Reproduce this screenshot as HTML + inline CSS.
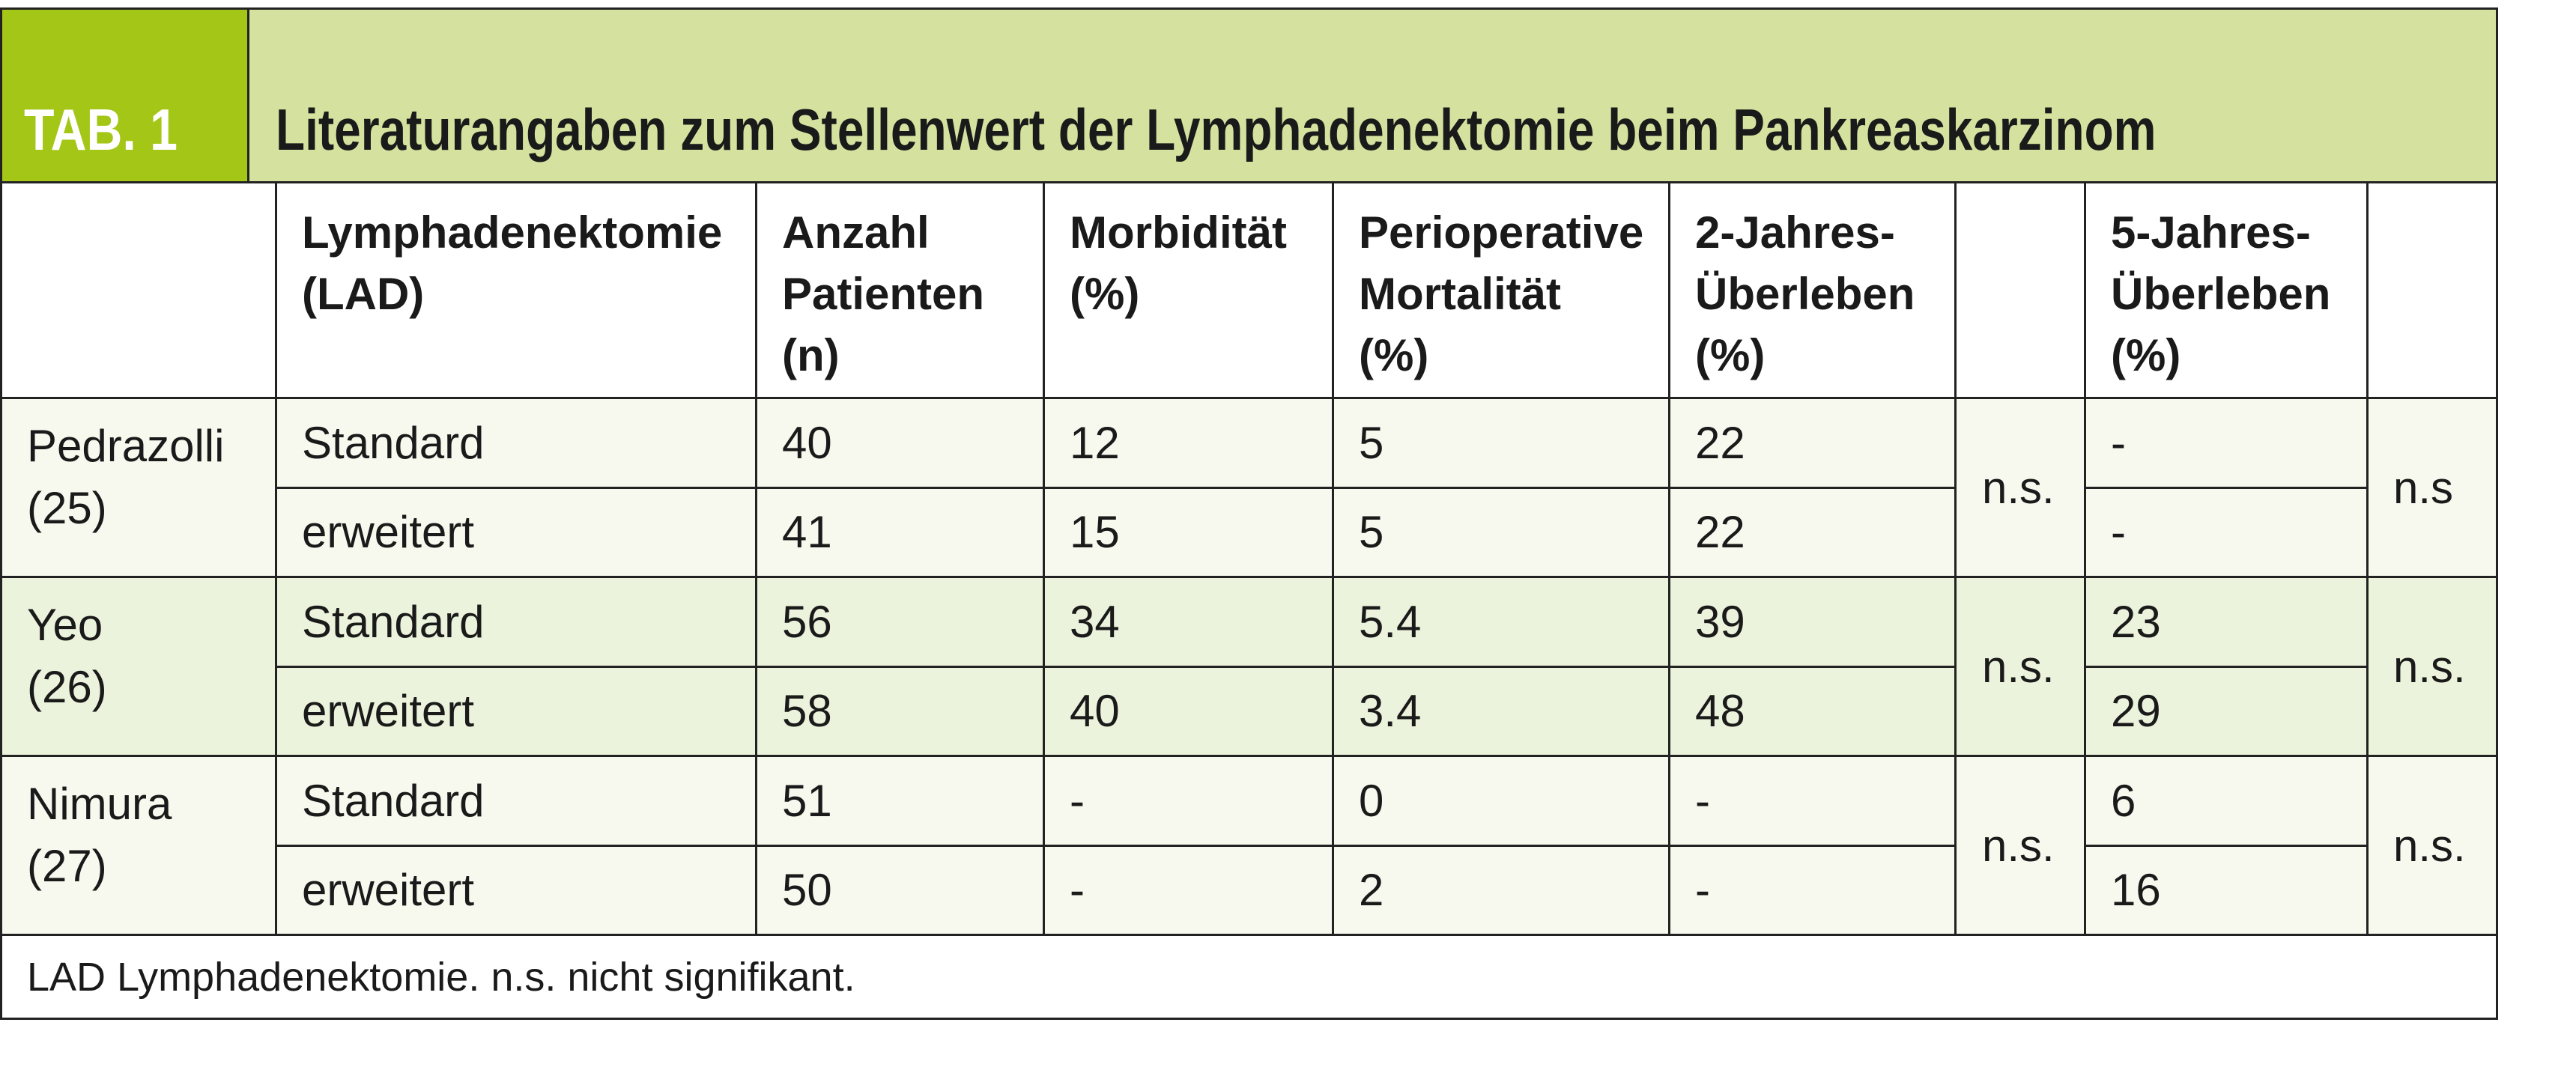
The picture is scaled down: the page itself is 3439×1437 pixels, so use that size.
<!DOCTYPE html>
<html><head><meta charset="utf-8"><style>
body{margin:0;width:3439px;height:1437px;background:#fff;position:relative;overflow:hidden;font-family:"Liberation Sans",sans-serif;color:#1a1a1a}
.a{position:absolute}
.bg{position:absolute}
.hl{position:absolute;height:3px;background:#222}
.vl{position:absolute;width:3px;background:#222}
.t{position:absolute;font-size:60px;line-height:70px;white-space:nowrap}
.h{position:absolute;font-size:60px;font-weight:bold;line-height:82px;white-space:nowrap}
</style></head><body>
<div class="bg" style="left:0;top:11px;width:331px;height:232px;background:#a3c617"></div>
<div class="bg" style="left:331px;top:11px;width:3002px;height:232px;background:#d5e29f"></div>
<div class="bg" style="left:0;top:531px;width:3333px;height:239px;background:#f7f9ee"></div>
<div class="bg" style="left:0;top:770px;width:3333px;height:239px;background:#ecf3dc"></div>
<div class="bg" style="left:0;top:1009px;width:3333px;height:239px;background:#f7f9ee"></div>

<div class="a" style="left:32px;top:128px;font-size:78px;line-height:90px;font-weight:bold;color:#fff;transform:scaleX(0.85);transform-origin:left;white-space:nowrap">TAB. 1</div>
<div class="a" style="left:368px;top:128px;font-size:78px;line-height:90px;font-weight:bold;transform:scaleX(0.82);transform-origin:left;white-space:nowrap">Literaturangaben zum Stellenwert der Lymphadenektomie beim Pankreaskarzinom</div>

<!-- borders -->
<div class="hl" style="left:0;top:10px;width:3335px"></div>
<div class="hl" style="left:0;top:242px;width:3335px"></div>
<div class="hl" style="left:0;top:530px;width:3335px"></div>
<div class="hl" style="left:368px;top:650px;width:2242px"></div>
<div class="hl" style="left:2783px;top:650px;width:377px"></div>
<div class="hl" style="left:0;top:769px;width:3335px"></div>
<div class="hl" style="left:368px;top:889px;width:2242px"></div>
<div class="hl" style="left:2783px;top:889px;width:377px"></div>
<div class="hl" style="left:0;top:1008px;width:3335px"></div>
<div class="hl" style="left:368px;top:1128px;width:2242px"></div>
<div class="hl" style="left:2783px;top:1128px;width:377px"></div>
<div class="hl" style="left:0;top:1247px;width:3335px"></div>
<div class="hl" style="left:0;top:1359px;width:3335px"></div>
<div class="vl" style="left:0;top:10px;height:1352px"></div>
<div class="vl" style="left:3332px;top:10px;height:1352px"></div>
<div class="vl" style="left:330px;top:10px;height:234px"></div>
<div class="vl" style="left:367px;top:242px;height:1007px"></div>
<div class="vl" style="left:1008px;top:242px;height:1007px"></div>
<div class="vl" style="left:1392px;top:242px;height:1007px"></div>
<div class="vl" style="left:1778px;top:242px;height:1007px"></div>
<div class="vl" style="left:2227px;top:242px;height:1007px"></div>
<div class="vl" style="left:2609px;top:242px;height:1007px"></div>
<div class="vl" style="left:2782px;top:242px;height:1007px"></div>
<div class="vl" style="left:3159px;top:242px;height:1007px"></div>

<!-- header -->
<div class="h" style="left:403px;top:270px">Lymphadenektomie<br>(LAD)</div>
<div class="h" style="left:1044px;top:270px">Anzahl<br>Patienten<br>(n)</div>
<div class="h" style="left:1428px;top:270px">Morbidität<br>(%)</div>
<div class="h" style="left:1814px;top:270px">Perioperative<br>Mortalität<br>(%)</div>
<div class="h" style="left:2263px;top:270px">2-Jahres-<br>Überleben<br>(%)</div>
<div class="h" style="left:2818px;top:270px">5-Jahres-<br>Überleben<br>(%)</div>

<!-- data -->
<div class="t" style="left:36px;top:554px;line-height:83px">Pedrazolli<br>(25)</div>
<div class="t" style="left:36px;top:793px;line-height:83px">Yeo<br>(26)</div>
<div class="t" style="left:36px;top:1032px;line-height:83px">Nimura<br>(27)</div>

<div class="t" style="left:403px;top:557px">Standard</div>
<div class="t" style="left:403px;top:676px">erweitert</div>
<div class="t" style="left:403px;top:796px">Standard</div>
<div class="t" style="left:403px;top:915px">erweitert</div>
<div class="t" style="left:403px;top:1035px">Standard</div>
<div class="t" style="left:403px;top:1154px">erweitert</div>

<div class="t" style="left:1044px;top:557px">40</div>
<div class="t" style="left:1044px;top:676px">41</div>
<div class="t" style="left:1044px;top:796px">56</div>
<div class="t" style="left:1044px;top:915px">58</div>
<div class="t" style="left:1044px;top:1035px">51</div>
<div class="t" style="left:1044px;top:1154px">50</div>

<div class="t" style="left:1428px;top:557px">12</div>
<div class="t" style="left:1428px;top:676px">15</div>
<div class="t" style="left:1428px;top:796px">34</div>
<div class="t" style="left:1428px;top:915px">40</div>
<div class="t" style="left:1428px;top:1035px">-</div>
<div class="t" style="left:1428px;top:1154px">-</div>

<div class="t" style="left:1814px;top:557px">5</div>
<div class="t" style="left:1814px;top:676px">5</div>
<div class="t" style="left:1814px;top:796px">5.4</div>
<div class="t" style="left:1814px;top:915px">3.4</div>
<div class="t" style="left:1814px;top:1035px">0</div>
<div class="t" style="left:1814px;top:1154px">2</div>

<div class="t" style="left:2263px;top:557px">22</div>
<div class="t" style="left:2263px;top:676px">22</div>
<div class="t" style="left:2263px;top:796px">39</div>
<div class="t" style="left:2263px;top:915px">48</div>
<div class="t" style="left:2263px;top:1035px">-</div>
<div class="t" style="left:2263px;top:1154px">-</div>

<div class="t" style="left:2646px;top:617px">n.s.</div>
<div class="t" style="left:2646px;top:856px">n.s.</div>
<div class="t" style="left:2646px;top:1095px">n.s.</div>

<div class="t" style="left:2818px;top:557px">-</div>
<div class="t" style="left:2818px;top:676px">-</div>
<div class="t" style="left:2818px;top:796px">23</div>
<div class="t" style="left:2818px;top:915px">29</div>
<div class="t" style="left:2818px;top:1035px">6</div>
<div class="t" style="left:2818px;top:1154px">16</div>

<div class="t" style="left:3195px;top:617px">n.s</div>
<div class="t" style="left:3195px;top:856px">n.s.</div>
<div class="t" style="left:3195px;top:1095px">n.s.</div>

<div class="t" style="left:36px;top:1270px;font-size:54px">LAD Lymphadenektomie. n.s. nicht signifikant.</div>
</body></html>
